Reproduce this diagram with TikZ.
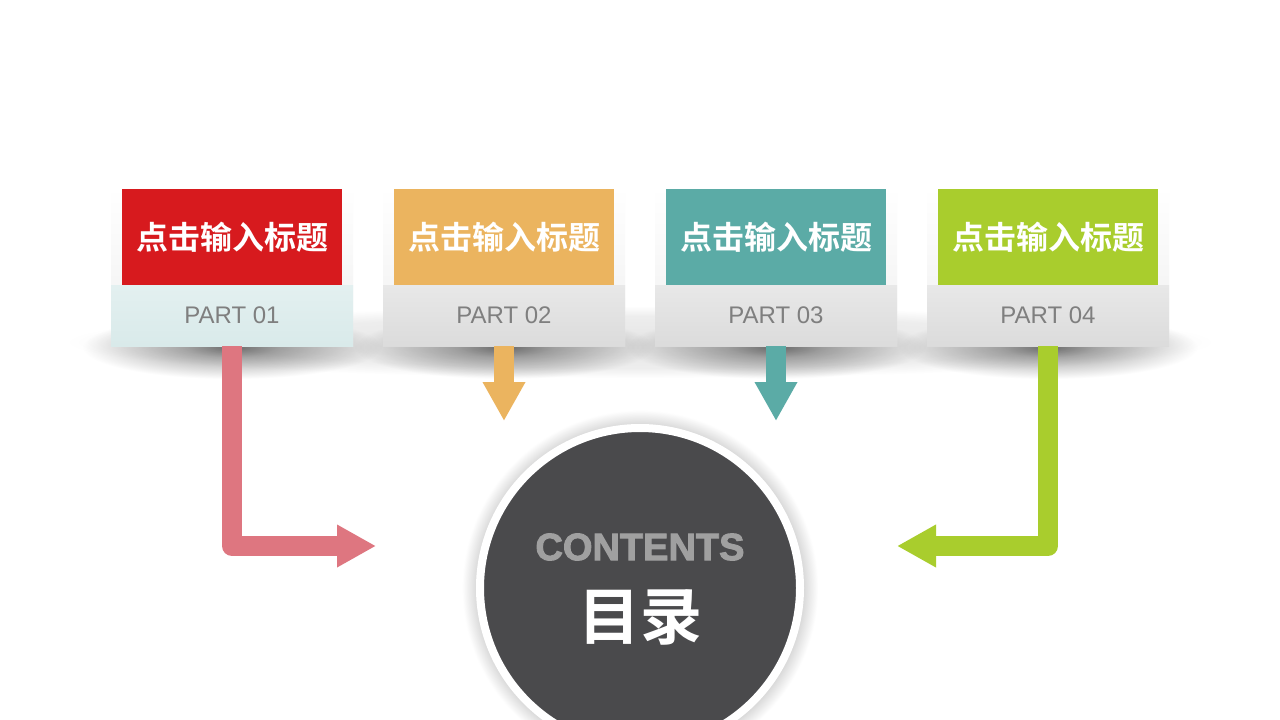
\documentclass[tikz,border=0pt]{standalone}
\usepackage{fontspec}
\setmainfont{Liberation Sans}
\newfontfamily\cjk{Noto Sans CJK SC}[BoldFont={Noto Sans CJK SC Bold}]
\newfontfamily\heavyfont{Liberation Sans Bold}[FakeBold=2.5]
\usetikzlibrary{arrows.meta}
\definecolor{cred}{HTML}{D71A1E}
\definecolor{corange}{HTML}{EBB45F}
\definecolor{cteal}{HTML}{5BABA6}
\definecolor{cgreen}{HTML}{A9CD2D}
\definecolor{cpink}{HTML}{DE7680}
\definecolor{cdark}{HTML}{4A4A4C}
\definecolor{cgraytxt}{HTML}{A0A0A0}
\definecolor{cparttxt}{HTML}{7F7F7F}
\pgfdeclareradialshading{cardshadow}{\pgfpoint{0bp}{0bp}}{color(0bp)=(black!55); color(8bp)=(black!32); color(25bp)=(white); color(50bp)=(white)}
\pgfdeclareradialshading{bandshadow}{\pgfpoint{0bp}{0bp}}{color(0bp)=(black!10); color(18bp)=(black!7); color(25bp)=(white); color(50bp)=(white)}
\pgfdeclareradialshading{halo}{\pgfpoint{0bp}{0bp}}{color(0bp)=(black!20); color(22.8bp)=(black!16); color(25bp)=(white); color(50bp)=(white)}
\tikzset{
  cardframe/.style={rectangle, minimum width=242pt, minimum height=159pt, inner sep=0pt, top color=white, bottom color=black!6},
  titlebox/.style={rectangle, minimum width=220pt, minimum height=96pt, inner sep=0pt, text=white, font=\cjk\bfseries\fontsize{32}{34}\selectfont},
  partbox/.style={rectangle, minimum width=242pt, minimum height=61pt, inner sep=0pt, text=cparttxt, font=\fontsize{24}{26}\selectfont, top color=black!9, bottom color=black!14},
  partboxone/.style={partbox, top color={rgb,255:red,227;green,240;blue,240}, bottom color={rgb,255:red,217;green,234;blue,234}},
  flow/.style={line width=20pt, line join=round, -{Triangle[length=39pt,width=40pt]}},
}
\begin{document}
\begin{tikzpicture}[x=1pt,y=-1pt]
\useasboundingbox (0,0) rectangle (1280,720);
\fill[white] (0,0) rectangle (1280,720);
% shadows under the cards
\begin{scope}[blend mode=multiply]
  \shade[shading=bandshadow] (640,342) ellipse [x radius=575, y radius=36];
  \foreach \cx in {232,504,776,1048}
    \shade[shading=cardshadow] (\cx,347) ellipse [x radius=150, y radius=32];
  \shade[shading=halo] (640,588) circle [radius=178];
\end{scope}
% arrow end points
\coordinate (e1) at (376,546);
\coordinate (e2) at (504,421);
\coordinate (e3) at (776,421);
\coordinate (e4) at (897,546);
% cards
\foreach \i/\cx in {1/232,2/504,3/776,4/1048}
  \node[cardframe] (c\i) at (\cx,266.5) {};
\node[titlebox, fill=cred] (t1) at (232,237) {点击输入标题};
\node[titlebox, fill=corange] (t2) at (504,237) {点击输入标题};
\node[titlebox, fill=cteal] (t3) at (776,237) {点击输入标题};
\node[titlebox, fill=cgreen] (t4) at (1048,237) {点击输入标题};
\node[partboxone] (p1) at (232,315.5) {PART 01};
\node[partbox] (p2) at (504,315.5) {PART 02};
\node[partbox] (p3) at (776,315.5) {PART 03};
\node[partbox] (p4) at (1048,315.5) {PART 04};
\draw[flow, cpink] (p1.south) -- (p1.south |- e1) -- (e1);
\draw[flow, corange] (p2.south) -- (e2);
\draw[flow, cteal] (p3.south) -- (e3);
\draw[flow, cgreen] (p4.south) -- (p4.south |- e4) -- (e4);
% central circle
\node[circle, fill=cdark, draw=white, line width=8pt, minimum size=320pt, inner sep=0pt] (circ) at (640,588) {};
\node[text=cgraytxt, font=\heavyfont\fontsize{38}{40}\selectfont] (ct) at (640,547) {CONTENTS};
\node[text=white, font=\cjk\bfseries\fontsize{62}{64}\selectfont] (ml) at (640,617) {目录};
\end{tikzpicture}
\end{document}
